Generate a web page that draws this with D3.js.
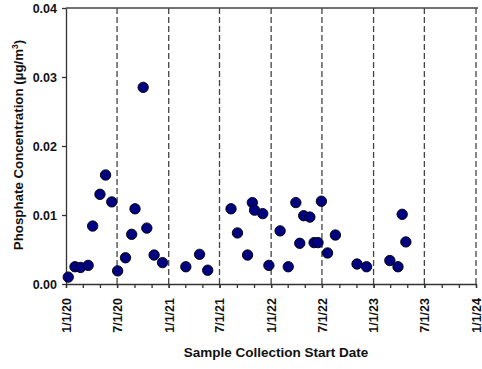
<!DOCTYPE html>
<html>
<head>
<meta charset="utf-8">
<script src="https://cdn.jsdelivr.net/npm/d3@7"></script>
<style>
  body { margin: 0; background: #fff; }
  text { font-family: "Liberation Sans", Arial, sans-serif; font-weight: bold; fill: #111; }
</style>
</head>
<body>
<div id="chart"></div>
<script>
let sampleDates = ["2020-01-09","2020-02-02","2020-02-22","2020-03-20","2020-04-05","2020-05-01","2020-05-21","2020-06-12",
    "2020-07-03","2020-07-31","2020-08-22","2020-09-03","2020-10-02","2020-10-15","2020-11-10","2020-12-10",
    "2021-03-03","2021-04-21","2021-05-20","2021-08-11","2021-09-03","2021-10-09","2021-10-26","2021-11-03",
    "2021-12-02","2021-12-24",
    "2022-02-02","2022-03-03","2022-03-30","2022-04-13","2022-04-27","2022-05-19","2022-06-03","2022-06-17",
    "2022-06-29","2022-07-21","2022-08-18","2022-11-03","2022-12-07",
    "2023-02-28","2023-03-29","2023-04-13","2023-04-26"];
let phosphate = [0.0010, 0.0025, 0.0024, 0.0027, 0.0084, 0.0130, 0.0158, 0.0119,
    0.0019, 0.0038, 0.0072, 0.0109, 0.0285, 0.0081, 0.0042, 0.0031,
    0.0025, 0.0043, 0.0020, 0.0109, 0.0074, 0.0042, 0.0118, 0.0107,
    0.0102, 0.0027,
    0.0077, 0.0025, 0.0118, 0.0059, 0.0099, 0.0097, 0.0060, 0.0060,
    0.0120, 0.0045, 0.0071, 0.0029, 0.0025,
    0.0034, 0.0025, 0.0101, 0.0061];
let yTicks = [0, 0.01, 0.02, 0.03, 0.04];
let xDomain = ["2020-01-01", "2024-01-01"];

let width = 482,
    height = 369;
let plotLeft = 66, plotRight = 476, plotTop = 8, plotBottom = 284;

let parse = d3.timeParse("%Y-%m-%d");

let svg = d3.select("#chart")
    .append("svg")
    .attr("width", width)
    .attr("height", height);

let x = d3.scaleTime()
    .domain(xDomain.map(parse))
    .range([plotLeft, plotRight]);

let y = d3.scaleLinear()
    .domain([0, 0.04])
    .range([plotBottom, plotTop]);

let majorDates = d3.timeMonth.every(6).range(x.domain()[0], d3.timeDay.offset(x.domain()[1], 1));

// dashed lines every six months
svg.selectAll(".grid")
    .data(majorDates.slice(1))
    .enter()
    .append("line")
    .attr("class", "grid")
    .attr("x1", d => x(d))
    .attr("x2", d => x(d))
    .attr("y1", plotTop)
    .attr("y2", plotBottom)
    .style("stroke", "#444")
    .style("stroke-width", 1.3)
    .style("stroke-dasharray", "6,3");

// top border
svg.append("line")
    .attr("x1", plotLeft).attr("x2", plotRight + 2)
    .attr("y1", plotTop).attr("y2", plotTop)
    .style("stroke", "#444")
    .style("stroke-width", 1.3);

// minor ticks every two months
let minor = svg.append("g")
    .attr("transform", "translate(0," + plotBottom + ")")
    .call(d3.axisBottom(x)
        .tickValues(d3.timeMonth.every(2).range(x.domain()[0], d3.timeDay.offset(x.domain()[1], 1)))
        .tickSize(4)
        .tickFormat(""));
minor.select(".domain").remove();

let xAxis = svg.append("g")
    .attr("transform", "translate(0," + plotBottom + ")")
    .call(d3.axisBottom(x)
        .tickValues(majorDates)
        .tickSize(4)
        .tickSizeOuter(0)
        .tickFormat(d3.timeFormat("%-m/%-d/%y")));

xAxis.selectAll("text")
    .attr("transform", "rotate(-90)")
    .attr("text-anchor", "end")
    .attr("x", -14)
    .attr("y", 0)
    .attr("dy", "0.35em")
    .style("font-size", "12.5px");

let yAxis = svg.append("g")
    .attr("transform", "translate(" + plotLeft + ",0)")
    .call(d3.axisLeft(y)
        .tickValues(yTicks)
        .tickSize(4)
        .tickSizeOuter(0)
        .tickFormat(d3.format(".2f")));

yAxis.selectAll("text")
    .attr("x", -9)
    .style("font-size", "12.5px");

svg.selectAll(".domain, .tick line")
    .style("stroke", "#333")
    .style("stroke-width", 1.3);

// points
svg.selectAll(".pt")
    .data(sampleDates)
    .enter()
    .append("circle")
    .attr("class", "pt")
    .attr("cx", d => x(parse(d)))
    .attr("cy", (d, i) => y(phosphate[i]))
    .attr("r", 5.2)
    .style("fill", "#000080")
    .style("stroke", "#000")
    .style("stroke-width", 0.9);

// axis titles
svg.append("text")
    .attr("x", 276)
    .attr("y", 357)
    .attr("text-anchor", "middle")
    .style("font-size", "13.5px")
    .text("Sample Collection Start Date");

let yTitle = svg.append("text")
    .attr("transform", "translate(23,145) rotate(-90)")
    .attr("text-anchor", "middle")
    .style("font-size", "13.3px");
yTitle.append("tspan").text("Phosphate Concentration (µg/m");
yTitle.append("tspan").attr("dy", -5).style("font-size", "8.5px").text("3");
yTitle.append("tspan").attr("dy", 5).text(")");
</script>
</body>
</html>
